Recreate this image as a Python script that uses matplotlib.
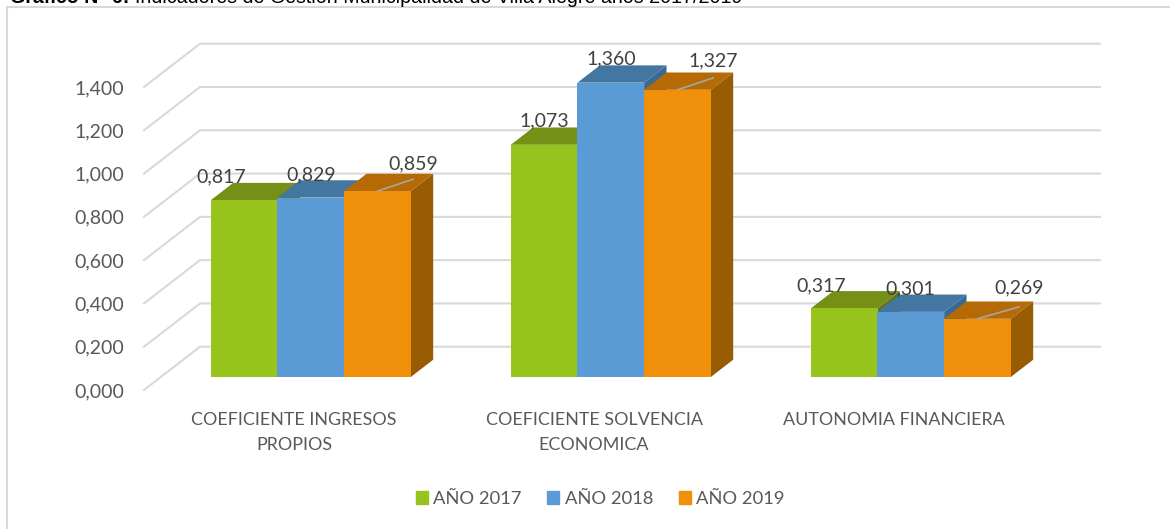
import matplotlib
matplotlib.use("Agg")
import matplotlib.pyplot as plt
from matplotlib.lines import Line2D
from matplotlib.patches import Patch, Polygon

categories = ["COEFICIENTE INGRESOS\nPROPIOS", "COEFICIENTE SOLVENCIA\nECONOMICA", "AUTONOMIA FINANCIERA"]
series_names = ["AÑO 2017", "AÑO 2018", "AÑO 2019"]
values_2017 = [0.817, 1.073, 0.317]
values_2018 = [0.829, 1.360, 0.301]
values_2019 = [0.859, 1.327, 0.269]
y_ticks = [0.0, 0.2, 0.4, 0.6, 0.8, 1.0, 1.2, 1.4]

front_colors = ["#97C31D", "#5B9BD5", "#F0900A"]
top_colors = ["#768F17", "#4476A2", "#B56A05"]
side_colors = ["#607512", "#3A6A94", "#985C03"]
grid_color = "#D9D9D9"
text_color = "#595959"

W, H = 1170, 529
# depth of the floor in data units, like the excel 3d column look
DEPTH_X = 56 / 300
DEPTH_Y = 0.2
BAR_W = 0.2222


def proj(x, y, d):
    # d goes from 0 (front plane) to 1 (back wall)
    return (x + d * DEPTH_X, y + d * DEPTH_Y)


def draw_bar(ax, left, value, i):
    right = left + BAR_W
    d0, d1 = 0.3, 0.7
    top = [proj(left, value, d0), proj(right, value, d0), proj(right, value, d1), proj(left, value, d1)]
    side = [proj(right, 0, d0), proj(right, value, d0), proj(right, value, d1), proj(right, 0, d1)]
    front = [proj(left, 0, d0), proj(right, 0, d0), proj(right, value, d0), proj(left, value, d0)]
    ax.add_patch(Polygon(side, color=side_colors[i], lw=0, clip_on=False, zorder=3))
    ax.add_patch(Polygon(top, color=top_colors[i], lw=0, clip_on=False, zorder=3))
    ax.add_patch(Polygon(front, color=front_colors[i], lw=0, clip_on=False, zorder=3))


plt.rcParams["font.family"] = ["Lato", "DejaVu Sans"]
fig = plt.figure(figsize=(W / 100, H / 100), dpi=100)

# only the top and left of the chart frame are inside the crop
fig.add_artist(Line2D([7 / W, 7 / W, 1], [0, 1 - 7 / H, 1 - 7 / H], color=grid_color, lw=1.5,
                      solid_joinstyle="miter"))

# title is cut by the top edge of the picture in the original too
fig.text(10 / W, 1 - 3 / H, "Gráfico N° 6:", family="Liberation Sans", fontsize=14.1, weight="bold",
         color="black", va="baseline")
fig.text(135 / W, 1 - 3 / H, "Indicadores de Gestión Municipalidad de Villa Alegre años 2017/2019",
         family="Liberation Sans", fontsize=14.1, color="black", va="baseline")

ax = fig.add_axes([144 / W, 1 - 390 / H, 900 / W, 303 / H])
ax.set_xlim(0, 3)
ax.set_ylim(0, 1.4)
for s in ax.spines.values():
    s.set_visible(False)
ax.patch.set_alpha(0)

# back wall lines and the diagonals on the left side
for t in y_ticks:
    x0, y0 = proj(0, t, 0)
    x1, y1 = proj(0, t, 1)
    x2, y2 = proj(3, t, 1)
    ax.plot([x0, x1, x2], [y0, y1, y2], color=grid_color, lw=1.5, clip_on=False, zorder=1,
            solid_joinstyle="miter")

all_values = [values_2017, values_2018, values_2019]
# label offsets in pixels from the front top centre of each bar
label_dx = [[-23, 0, -23], [0, 0, -1], [36, 36, 42]]
label_dy = [[23, 24, 23], [23, 24, 23], [27, 29, 31]]

for c in range(len(categories)):
    base = c + 0.5 - 1.5 * BAR_W
    for i in range(3):
        draw_bar(ax, base + i * BAR_W, all_values[i][c], i)

for c in range(len(categories)):
    base = c + 0.5 - 1.5 * BAR_W
    for i in range(3):
        v = all_values[i][c]
        cx, cy = proj(base + (i + 0.5) * BAR_W, v, 0.3)
        dx, dy = label_dx[i][c], label_dy[i][c]
        if i == 2:
            # leader line on the orange bars
            ax.annotate("", xy=(cx, cy), xytext=(dx * 0.72, 12 * 0.72), xycoords="data",
                        textcoords="offset points", zorder=5,
                        arrowprops=dict(arrowstyle="-", color="#A6A6A6", lw=1.2, shrinkA=0, shrinkB=0))
        ax.annotate(f"{v:.3f}".replace(".", ","), xy=(cx, cy), xytext=(dx * 0.72, dy * 0.72),
                    textcoords="offset points", ha="center", va="center", fontsize=14,
                    color="#404040", zorder=6, annotation_clip=False)

ax.set_yticks(y_ticks)
ax.set_yticklabels([f"{t:.3f}".replace(".", ",") for t in y_ticks], fontsize=14, color=text_color)
ax.set_xticks([c + 0.5 for c in range(3)])
ax.set_xticklabels(categories, fontsize=12.9, color=text_color, linespacing=1.7)
ax.tick_params(axis="both", length=0)
ax.tick_params(axis="y", pad=14)
ax.tick_params(axis="x", pad=16)

handles = [Patch(color=col, label=n) for col, n in zip(front_colors, series_names)]
fig.legend(handles=handles, loc="center", bbox_to_anchor=(600 / W, 1 - 499 / H), ncol=3, frameon=False,
           fontsize=13.2, labelcolor=text_color, handlelength=0.67, handleheight=0.67, handletextpad=0.28,
           columnspacing=1.4)

fig.savefig("out.png", dpi=100)
